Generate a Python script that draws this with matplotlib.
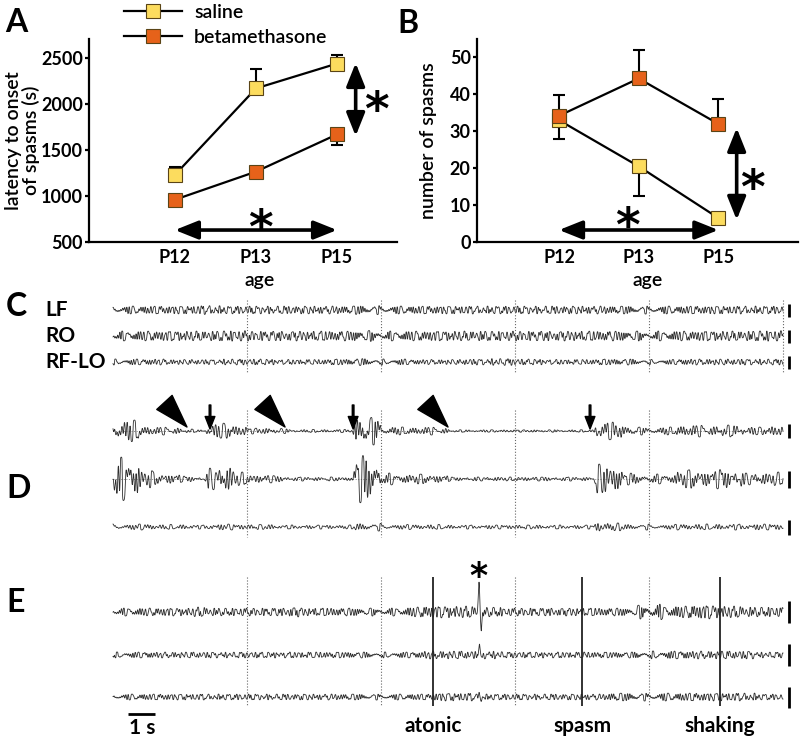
import numpy as np
import matplotlib
matplotlib.use('Agg')
import matplotlib.pyplot as plt
from matplotlib.lines import Line2D
from matplotlib.transforms import offset_copy

plt.rcParams['font.family'] = ['Lato', 'DejaVu Sans']
plt.rcParams['mathtext.fontset'] = 'dejavusans'

# ---------------- data: panels A and B ----------------
ages = ['P12', 'P13', 'P15']
lat_saline = [1230, 2170, 2440]
lat_saline_err = [80, 210, 95]        # drawn upward
lat_beta = [960, 1265, 1670]
lat_beta_err = [0, 0, 120]            # drawn downward
num_saline = [33.0, 20.5, 6.5]
num_saline_err = [5.0, 8.0, 0.0]      # drawn downward
num_beta = [34.2, 44.3, 32.0]
num_beta_err = [5.5, 7.8, 6.7]        # drawn upward

# ---------------- data: EEG envelopes (half-amplitude in px, one value per time step) ----------------
c_env_step = 1.0
c_lf_env = [4, 4, 4, 4.5, 4, 4, 4, 4, 4, 4.5, 4, 4, 4, 4, 4, 4, 4, 4, 4, 4, 4, 4, 4, 4, 4, 4]
c_ro_env = [5, 5, 5, 5, 5.5, 5, 5, 5, 5, 5.5, 5, 5, 5, 5, 5, 5, 5, 5, 5, 5, 5, 5, 5, 5, 5.5, 5]
c_rflo_env = [3, 3, 2.5, 2.5, 3, 3, 2.5, 2.5, 3, 3.5, 3, 2.5, 2.5, 3, 3.5, 3, 2.5, 2.5, 3, 3, 2.5, 3, 3, 3, 3, 3]

d_env_step = 0.5
d_row1_env = [12, 11, 5, 4, 3.5, 2, 1.2, 7, 8, 5,
              3, 3, 2.5, 1.5, 1.5, 1.5, 1.5, 1.5, 15, 14,
              5, 4, 4, 4, 3, 1.2, 1.2, 1.2, 1.2, 1.2,
              1.2, 1.2, 1.2, 1.2, 1.2, 1.2, 9, 9, 5, 4,
              4, 4, 6, 6, 5, 6, 6, 4, 4, 5,
              4]
d_row2_env = [22, 20, 9, 6, 5, 3, 2, 11, 13, 7,
              4, 4, 3, 2, 2, 2, 2, 2, 24, 22,
              6, 5, 5, 5, 4, 2, 2, 2, 2, 2,
              2, 2, 2, 2, 2, 2, 15, 14, 6, 5,
              5, 5, 9, 10, 8, 10, 9, 6, 6, 7,
              6]
d_row3_env = [3, 3, 3, 2.5, 2.5, 2.5, 2, 3, 3, 2.5,
              2.5, 2.5, 2, 2, 2, 2, 2, 2, 4, 4,
              3, 2.5, 2.5, 2.5, 2.5, 2, 2, 2, 2, 2,
              2, 2, 2, 2, 2, 2, 5, 4, 3, 3,
              2.5, 2.5, 3, 3, 3, 3, 3, 3, 3, 3,
              3]

e_env_step = 0.5
e_row1_env = [4, 4, 4, 4, 4, 4, 5, 4, 4, 4,
              4, 4, 4, 5, 4, 4, 4, 4, 4, 4,
              4, 4, 5, 6, 6, 6, 6, 5, 5, 4,
              4, 4, 4, 4, 4, 4, 4, 4, 4, 7,
              8, 6, 6, 7, 7, 6, 6, 5, 5, 5,
              4]
e_row2_env = [3, 3, 3, 3, 3, 3, 3, 3, 3, 3,
              3, 3, 3, 3, 3, 3, 3, 3, 3, 3,
              3, 3, 3, 4, 4, 4, 4, 4, 4, 3,
              3, 3, 3, 3, 3, 3, 3, 3, 3, 4,
              4, 4, 4, 4, 4, 4, 4, 4, 3, 3,
              3]
e_row3_env = [3, 3, 3, 3, 3, 3, 3, 3, 3, 3,
              3, 3, 3, 3, 3, 3, 3, 3, 3, 3,
              3, 3, 3, 3, 4, 4, 4, 3, 3, 3,
              3, 3, 3, 3, 3, 3, 3, 4, 4, 4,
              4, 4, 4, 4, 4, 4, 4, 4, 3, 3,
              3]
e_spike_t = 13.66
e_spike_up = [30, 11, 4]
e_spike_down = [16, 5, 3]

c_labels = ['LF', 'RO', 'RF-LO']
d_arrowhead_t = [2.76, 6.42, 12.5]
d_arrow_t = [3.62, 8.96, 17.8]
e_event_t = [11.94, 17.5, 22.65]
e_event_labels = ['atonic', 'spasm', 'shaking']
divider_t = [5, 10, 15, 20]
trace_dur = 25.0

# ---------------- styling / layout ----------------
W, H = 800, 743
SAL_C = '#FCDC5E'
BETA_C = '#E6621A'
EDGE = '#5a4416'
TRACE_C = '#2e2e2e'
PX_PER_S = 26.8
T0_PX = 113
STAR = r'$\mathbf{*}$'


def fx(px):
    return px / W


def fy(py):
    return 1 - py / H


fig = plt.figure(figsize=(W / 100, H / 100), dpi=100)

# ---------------- EEG overlay axes (x in seconds, y in px) ----------------
ax_e = fig.add_axes([0, 0, 1, 1], zorder=0)
ax_e.set_xlim(-T0_PX / PX_PER_S, (W - T0_PX) / PX_PER_S)
ax_e.set_ylim(H, 0)
ax_e.axis('off')

FS = 240
t = np.linspace(0, trace_dur, int(trace_dur * FS) + 1)
FREQ_BG = [2.8, 3.9, 5.0, 6.2, 7.4, 8.7, 10.1, 11.6, 13.3]
FREQ_D = [2.4, 3.3, 4.2, 5.1, 6.0, 6.9, 7.9, 9.1, 10.6]


def carrier(k, freqs):
    s = np.zeros_like(t)
    for j, f in enumerate(freqs):
        ph = ((j + 1) * (k + 3) * 2.39996) % (2 * np.pi)
        s += np.sin(2 * np.pi * f * t + ph) / f ** 0.3
    return np.tanh(s / (1.2 * s.std()))


def envelope(env, step):
    idx = np.minimum((t / step).astype(int), len(env) - 1)
    e = np.asarray(env, float)[idx]
    n = int(0.12 * FS)
    ep = np.pad(e, n, mode='edge')
    return np.convolve(ep, np.ones(n) / n, mode='same')[n:-n]


def draw_trace(y0, env, step, k, freqs, extra=None):
    y = y0 - envelope(env, step) * carrier(k, freqs)
    if extra is not None:
        y = y + extra
    ax_e.plot(t, y, color=TRACE_C, lw=0.6, zorder=2)


def star(ax, xx, yy, size):
    # places the centre of the asterisk glyph at (xx, yy) (offset is in screen points)
    tr = offset_copy(ax.transData, fig=fig, y=-0.56 * size, units='points')
    ax.text(xx, yy, STAR, fontsize=size, ha='center', va='baseline', transform=tr)


scale_x = trace_dur + 6 / PX_PER_S

# panel C
c_rows = [310, 336, 362]
c_bars = [13, 13, 13]
for i, (y0, env) in enumerate(zip(c_rows, [c_lf_env, c_ro_env, c_rflo_env])):
    draw_trace(y0, env, c_env_step, i, FREQ_BG)
    ax_e.vlines(scale_x, y0 - c_bars[i] / 2, y0 + c_bars[i] / 2, color='k', lw=2)
    fig.text(fx(45), fy(y0 + 6), c_labels[i], fontsize=15, fontweight='bold', va='baseline')
ax_e.vlines(divider_t + [trace_dur], 300, 372, colors='#666666', linestyles=':', lw=0.8)
fig.text(fx(6), fy(c_rows[0] + 6), 'C', fontsize=23, fontweight='bold', va='baseline')

# panel D
d_rows = [431, 479, 527]
d_bars = [14, 17, 15]
for i, (y0, env) in enumerate(zip(d_rows, [d_row1_env, d_row2_env, d_row3_env])):
    draw_trace(y0, env, d_env_step, i + 3, FREQ_D)
    ax_e.vlines(scale_x, y0 - d_bars[i] / 2, y0 + d_bars[i] / 2, color='k', lw=2)
for y0 in d_rows[:2]:
    ax_e.hlines(y0, 0, trace_dur, colors='#888888', linestyles=':', lw=0.7, zorder=1)
ax_e.vlines(divider_t, 410, 537, colors='#666666', linestyles=':', lw=0.8)
for tt in d_arrowhead_t:
    ax_e.annotate('', xy=(tt, 427), xytext=(tt - 22 / PX_PER_S, 403),
                  arrowprops=dict(facecolor='k', edgecolor='k', width=0.01,
                                  headwidth=15, headlength=24, shrink=0))
for tt in d_arrow_t:
    ax_e.annotate('', xy=(tt, 429), xytext=(tt, 405),
                  arrowprops=dict(facecolor='k', edgecolor='k', width=1.2,
                                  headwidth=7, headlength=9, shrink=0))
fig.text(fx(6), fy(498), 'D', fontsize=23, fontweight='bold', va='baseline')

# panel E
e_rows = [612, 655, 697]
e_bars = [22, 22, 21]
spike_shape_up = np.exp(-((t - e_spike_t) / 0.035) ** 2)
spike_shape_dn = np.exp(-((t - e_spike_t - 0.09) / 0.04) ** 2)
for i, (y0, env) in enumerate(zip(e_rows, [e_row1_env, e_row2_env, e_row3_env])):
    extra = -e_spike_up[i] * spike_shape_up + e_spike_down[i] * spike_shape_dn
    draw_trace(y0, env, e_env_step, i + 6, FREQ_BG, extra)
    ax_e.vlines(scale_x, y0 - e_bars[i] / 2, y0 + e_bars[i] / 2, color='k', lw=2)
ax_e.vlines(divider_t, 577, 706, colors='#666666', linestyles=':', lw=0.8)
ax_e.vlines(e_event_t, 577, 706, colors='#222222', lw=1.3)
for tt, lab in zip(e_event_t, e_event_labels):
    ax_e.text(tt, 732, lab, fontsize=15, fontweight='bold', ha='center', va='baseline')
star(ax_e, e_spike_t, 566, 25)
ax_e.hlines(714, 0.56, 1.56, color='k', lw=2)
ax_e.text(1.1, 734, '1 s', fontsize=15, fontweight='bold', ha='center', va='baseline')
fig.text(fx(6), fy(612), 'E', fontsize=23, fontweight='bold', va='baseline')

# ---------------- panels A and B ----------------
x = np.arange(len(ages))


def style_axes(ax):
    for s in ['top', 'right']:
        ax.spines[s].set_visible(False)
    for s in ['left', 'bottom']:
        ax.spines[s].set_linewidth(1.6)
    ax.set_facecolor('none')
    ax.tick_params(axis='y', length=3, width=1.6, pad=1.5, labelsize=13)
    ax.tick_params(axis='x', length=0, pad=5, labelsize=13)
    ax.set_xticks(x)
    ax.set_xticklabels(ages)


def bold_ticks(ax):
    for lbl in ax.get_xticklabels() + ax.get_yticklabels():
        lbl.set_fontweight('bold')


def series(ax, y, err, up, color, z):
    lo = np.zeros(len(y)) if up else np.array(err)
    hi = np.array(err) if up else np.zeros(len(y))
    ax.errorbar(x, y, yerr=[lo, hi], fmt='none', ecolor='k', elinewidth=1.5,
                capsize=4, capthick=1.5, zorder=z)
    ax.plot(x, y, color='k', lw=1.6, zorder=z + 0.1)
    ax.plot(x, y, ls='none', marker='s', ms=9.5, mfc=color, mec=EDGE, mew=0.8, zorder=z + 0.2)


def dbl_arrow(ax, p0, p1):
    ax.annotate('', xy=p1, xytext=p0,
                arrowprops=dict(arrowstyle='<|-|>,head_length=0.7,head_width=0.28',
                                mutation_scale=20, color='k', lw=2.6,
                                shrinkA=0, shrinkB=0))


LABEL_W = 'semibold'

# panel A
ax_a = fig.add_axes([fx(89), fy(242), 308 / W, 203 / H], zorder=1)
style_axes(ax_a)
ax_a.set_xlim(-1.06, 2.74)
ax_a.set_ylim(500, 2707)
ax_a.set_yticks([500, 1000, 1500, 2000, 2500])
bold_ticks(ax_a)
series(ax_a, lat_saline, lat_saline_err, True, SAL_C, 3)
series(ax_a, lat_beta, lat_beta_err, False, BETA_C, 4)
ax_a.set_ylabel('latency to onset\nof spasms (s)', fontsize=14, linespacing=1.0,
                fontweight=LABEL_W)
ax_a.yaxis.set_label_coords(-0.16, 0.5)
ax_a.set_xlabel('age', fontsize=14, fontweight=LABEL_W)
ax_a.xaxis.set_label_coords(0.555, -0.15)
dbl_arrow(ax_a, (0, 630), (2, 630))
dbl_arrow(ax_a, (2.23, 2446), (2.23, 1652))
star(ax_a, 1.06, 800, 34)
star(ax_a, 2.49, 2076, 34)
handles = [Line2D([], [], color='k', lw=1.6, marker='s', ms=9.5, mfc=SAL_C, mec=EDGE, mew=0.8),
           Line2D([], [], color='k', lw=1.6, marker='s', ms=9.5, mfc=BETA_C, mec=EDGE, mew=0.8)]
leg = ax_a.legend(handles, ['saline', 'betamethasone'], loc='upper left',
                  bbox_to_anchor=(fx(124), fy(4)), bbox_transform=fig.transFigure,
                  frameon=False, handlelength=3.0, handletextpad=0.6,
                  labelspacing=0.4, borderpad=0, borderaxespad=0,
                  prop={'size': 14, 'weight': LABEL_W})
fig.text(fx(5), fy(32), 'A', fontsize=23, fontweight='bold', va='baseline')

# panel B
ax_b = fig.add_axes([fx(477), fy(242), 321 / W, 203 / H], zorder=1)
style_axes(ax_b)
ax_b.set_xlim(-1.03, 3.0)
ax_b.set_ylim(0, 55)
ax_b.set_yticks([0, 10, 20, 30, 40, 50])
bold_ticks(ax_b)
series(ax_b, num_saline, num_saline_err, False, SAL_C, 3)
series(ax_b, num_beta, num_beta_err, True, BETA_C, 4)
ax_b.set_ylabel('number of spasms', fontsize=14, fontweight=LABEL_W)
ax_b.yaxis.set_label_coords(-0.125, 0.5)
ax_b.set_xlabel('age', fontsize=14, fontweight=LABEL_W)
ax_b.xaxis.set_label_coords(0.53, -0.15)
dbl_arrow(ax_b, (0, 3.25), (2, 3.25))
dbl_arrow(ax_b, (2.23, 30.9), (2.23, 6.0))
star(ax_b, 0.87, 8.0, 34)
star(ax_b, 2.43, 18.2, 34)
fig.text(fx(397), fy(33), 'B', fontsize=23, fontweight='bold', va='baseline')

fig.savefig('out.png', dpi=100)
